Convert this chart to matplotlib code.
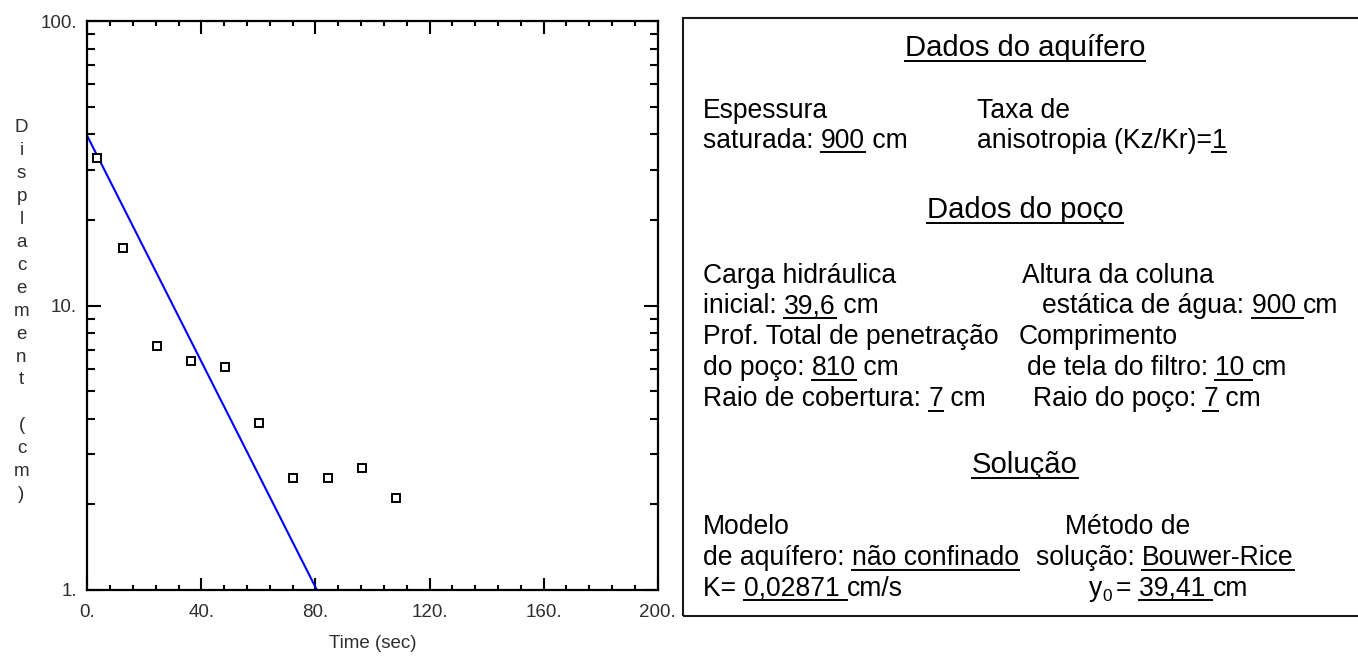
import matplotlib
matplotlib.use("Agg")
import matplotlib.pyplot as plt
from matplotlib.ticker import FixedLocator, MultipleLocator, LogLocator, NullFormatter, FuncFormatter
from matplotlib.transforms import IdentityTransform
from matplotlib.lines import Line2D
from matplotlib.patches import Rectangle
from matplotlib.font_manager import FontProperties

# slug test readings
time_s = [3.3, 12.5, 24.3, 36.2, 48.4, 60.3, 72.1, 84.4, 96.2, 108.1]
disp_cm = [33.0, 15.9, 7.2, 6.4, 6.1, 3.86, 2.48, 2.48, 2.69, 2.10]

# Bouwer-Rice straight line (y0 = 39.41 cm)
fit_time = [0.0, 80.5]
fit_disp = [39.41, 1.0]

x_ticks = [0, 40, 80, 120, 160, 200]
y_ticks = [1, 10, 100]
y_label = "Displacement (cm)"
x_label = "Time (sec)"

# info panel text: each entry is a list of (text, underlined[, "sub"])
title_aquifer = [("Dados do aquífero", True)]
title_well = [("Dados do poço", True)]
title_solution = [("Solução", True)]

aquifer_left = [
    [("Espessura", False)],
    [("saturada: ", False), ("900", True), (" cm", False)],
]
aquifer_right = [
    [("Taxa de", False)],
    [("anisotropia (Kz/Kr)=", False), ("1", True)],
]
well_left = [
    [("Carga hidráulica", False)],
    [("inicial: ", False), ("39,6", True), (" cm", False)],
    [("Prof. Total de penetração", False)],
    [("do poço: ", False), ("810", True), (" cm", False)],
    [("Raio de cobertura: ", False), ("7", True), (" cm", False)],
]
well_right = [
    [("Altura da coluna", False)],
    [("estática de água: ", False), ("900 ", True), ("cm", False)],
    [("Comprimento", False)],
    [("de tela do filtro: ", False), ("10 ", True), ("cm", False)],
    [("Raio do poço: ", False), ("7", True), (" cm", False)],
]
solution_left = [
    [("Modelo", False)],
    [("de aquífero: ", False), ("não confinado", True)],
    [("K= ", False), ("0,02871 ", True), ("cm/s", False)],
]
solution_right = [
    [("Método de", False)],
    [("solução: ", False), ("Bouwer-Rice", True)],
    [("y", False), ("0", False, "sub"), ("= ", False, "gap"), ("39,41 ", True), ("cm", False)],
]

W, H = 1358, 658
fig = plt.figure(figsize=(W / 100, H / 100), dpi=100)
fig.patch.set_facecolor("white")
plt.rcParams["font.family"] = ["Liberation Sans", "DejaVu Sans"]

# ---- semilog plot ----
ax = fig.add_axes([87.3 / W, 1 - 590 / H, (657.7 - 87.3) / W, (590 - 21) / H])
ax.plot(time_s, disp_cm, linestyle="none", marker="s", markersize=5.5,
        markerfacecolor="white", markeredgecolor="black", markeredgewidth=1.4,
        zorder=3)
ax.plot(fit_time, fit_disp, color="#0000ff", linewidth=1.5, zorder=2)
ax.set_yscale("log")
ax.set_xlim(0, 200)
ax.set_ylim(1, 100)

label_color = "#2e2e2e"
ax.xaxis.set_major_locator(FixedLocator(x_ticks))
ax.xaxis.set_minor_locator(MultipleLocator(8))
ax.yaxis.set_major_locator(FixedLocator(y_ticks))
ax.yaxis.set_minor_locator(LogLocator(base=10, subs=range(2, 10)))
ax.yaxis.set_minor_formatter(NullFormatter())
ax.xaxis.set_major_formatter(FuncFormatter(lambda v, p: f"{v:g}."))
ax.yaxis.set_major_formatter(FuncFormatter(lambda v, p: f"{v:g}."))

ax.tick_params(which="both", direction="in", top=True, right=True, width=1.5,
               colors="black", labelcolor=label_color, labelsize=13.5)
ax.tick_params(axis="x", which="major", length=9, pad=10)
ax.tick_params(axis="x", which="minor", length=3.5)
ax.tick_params(axis="y", which="major", length=10, pad=7.5)
ax.tick_params(axis="y", which="minor", length=5.5)
for sp in ax.spines.values():
    sp.set_linewidth(1.6)

ax.set_xlabel(x_label, fontsize=13.5, color=label_color)
ax.xaxis.set_label_coords(0.5, (590 - 634.5) / 569)
ax.xaxis.label.set_verticalalignment("top")

# stacked y label, one letter per line
for i, ch in enumerate(y_label):
    fig.text(21.5, H - (128 + i * 22.9), ch, transform=IdentityTransform(),
             ha="center", va="center", fontsize=13.5, color=label_color)

# ---- info panel ----
fig.add_artist(Rectangle((682.7, H - 616), 800, 616 - 18.3, transform=IdentityTransform(),
                         fill=False, linewidth=1.5, edgecolor="#1a1a1a"))

renderer = fig.canvas.get_renderer()


def advance(s, fp):
    # width including any trailing blanks
    w1, _, _ = renderer.get_text_width_height_descent("x" + s + "x", fp, ismath=False)
    w0, _, _ = renderer.get_text_width_height_descent("xx", fp, ismath=False)
    return w1 - w0


def write(x, y_top, parts, size=19.1, center=False):
    yb = H - y_top
    fp = FontProperties(family="Liberation Sans", size=size)
    sub_fp = FontProperties(family="Liberation Sans", size=size * 0.65)
    kinds = [part[2] if len(part) > 2 else "" for part in parts]
    widths = []
    for part, kind in zip(parts, kinds):
        w = advance(part[0], sub_fp if kind == "sub" else fp)
        if kind == "gap":
            w += 4
        widths.append(w)
    if center:
        x = x - sum(widths) / 2
    for part, kind, w in zip(parts, kinds, widths):
        fs = size * 0.65 if kind == "sub" else size
        dy = -5 if kind == "sub" else 0
        x0 = x + 4 if kind == "gap" else x
        fig.text(x0, yb + dy, part[0], transform=IdentityTransform(), fontsize=fs,
                 family="Liberation Sans", ha="left", va="baseline", color="black")
        if part[1]:
            fig.add_artist(Line2D([x, x + w], [yb - 4.5, yb - 4.5], transform=IdentityTransform(),
                                  color="black", linewidth=1.4))
        x += w


panel_center = 1025
write(panel_center, 56, title_aquifer, size=21.1, center=True)
write(panel_center, 218.3, title_well, size=21.1, center=True)
write(panel_center, 473.3, title_solution, size=21.1, center=True)

for row, yb in zip(aquifer_left, [118.3, 147.7]):
    write(703.3, yb, row)
for row, yb in zip(aquifer_right, [118.3, 147.7]):
    write(976.7, yb, row)

well_rows = [283.3, 313.3, 344.5, 375, 406]
for row, yb in zip(well_left, well_rows):
    write(703.3, yb, row)
for row, yb, xs in zip(well_right, well_rows, [1022.3, 1042.3, 1019, 1026.7, 1032.7]):
    write(xs, yb, row)

sol_rows = [534, 565, 595.7]
for row, yb in zip(solution_left, sol_rows):
    write(703.3, yb, row)
for row, yb, xs in zip(solution_right, sol_rows, [1065, 1036, 1089.3]):
    write(xs, yb, row)

fig.savefig("out.png", dpi=100)
